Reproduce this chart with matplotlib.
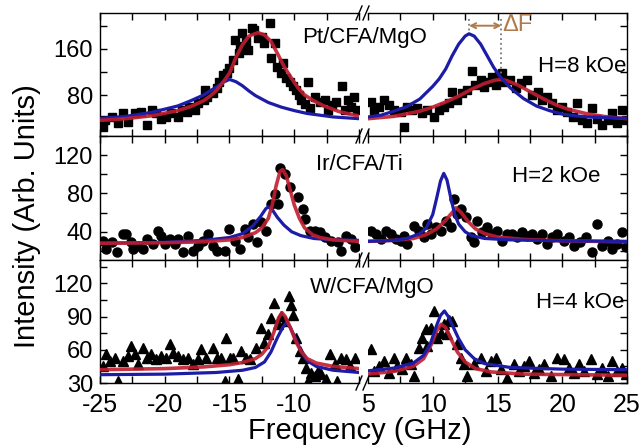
import numpy as np
import matplotlib
matplotlib.use("Agg")
import matplotlib.pyplot as plt
from matplotlib.ticker import MultipleLocator, FuncFormatter

plt.rcParams['font.family'] = ['Liberation Sans', 'DejaVu Sans']
plt.rcParams['axes.unicode_minus'] = False

# ---------------- data ----------------
# top panel: Pt/CFA/MgO, H=8 kOe (squares)
pt_fl = [-24.8,-24.6,-24.1,-23.6,-23.2,-22.8,-22.3,-21.8,-21.4,-21.0,-20.7,-20.3,-19.9,-19.5,-19.0,-18.7,
         -18.3,-18.1,-17.7,-17.4,-17.0,-16.9,-16.7,-16.3,-16.0,-15.8,-15.5,-15.2,-15.0,-14.7,-14.6,-14.3,
         -14.2,-14.0,-13.7,-13.6,-13.3,-13.1,-12.8,-12.5,-12.3,-11.9,-11.8,-11.5,-11.3,-11.0,-10.9,-10.6,
         -10.35,-10.1,-9.85,-9.6,-9.45,-9.2,-8.95,-8.8,-8.4,-8.0,-7.65,-7.4,-7.1,-6.75,-6.35,-6.1,-5.85,
         -5.6,-5.35,-5.15]
pt_il = [25,36,42,31,48,34,48,51,28,54,48,39,42,48,42,54,
         51,60,54,66,71,89,76,83,92,103,115,118,126,141,176,153,
         164,187,173,158,196,193,179,181,170,205,144,170,129,118,135,109,
         103,95,89,80,71,65,103,57,77,68,71,54,63,68,95,54,71,
         60,77,54]
pt_fr = [5.2,5.46,5.85,6.24,6.62,7.0,7.52,7.78,8.04,8.42,8.81,9.2,9.58,10.1,10.48,10.87,11.25,11.5,11.9,
         12.28,12.67,13.06,13.3,13.7,13.96,14.2,14.6,14.86,15.1,15.37,15.6,16.0,16.4,16.8,17.3,17.7,18.1,
         18.46,18.85,19.23,19.6,20.0,20.4,20.8,21.16,21.55,21.94,22.3,22.7,23.1,23.5,23.87,24.25,24.64,24.9]
pt_ir = [68,54,60,71,63,54,51,25,60,54,57,48,54,42,54,60,66,86,71,
         83,89,121,97,106,94,103,112,97,115,118,103,106,92,100,106,80,86,
         71,77,66,54,60,51,42,66,37,31,57,39,28,37,48,31,54,37]

pt_red_x_l = [-25,-23,-21,-19,-18,-17,-16.5,-16,-15.5,-15,-14.5,-14,-13.5,-12.8,-12.3,-11.8,-11.3,
              -10.8,-10.3,-9.7,-9.2,-8.5,-7.7,-6.5,-5]
pt_red_l = [36,39,44,53,60,70,78,88,102,118,145,167,182,188,184,173,152,130,112,92,80,70,61,51,43.5]
pt_blue_x_l = [-25,-23,-21,-19,-18,-17,-16,-15.5,-15,-14.5,-14,-13.5,-13,-12,-11,-10,-9,-8,-7,-5]
pt_blue_l = [39.5,43,50,61,70,80,94,102,107,103,96,87,79,67,59,53,48,45,42,39]
pt_blue_x_r = [5,6,7,8,9,10,10.5,11,11.5,12,12.5,12.8,13.2,13.7,14.2,14.7,15.2,16,17,18,19,20,21,22,23,25]
pt_blue_r = [42,45,52,60,73,95,108,125,148,168,182,186,182,168,148,128,112,92,74,61,53,47,44,42,41,39.5]
pt_red_x_r = [5,7,9,10,11,12,13,14,14.7,15.2,15.7,16.5,17.5,18.5,19.5,20.5,22,23.5,25]
pt_red_r = [39,43,52,59,68,78,90,100,105,107,105,98,86,74,63,55,47,42,39]

# middle panel: Ir/CFA/Ti, H=2 kOe (circles)
ir_fl = [-24.77,-24.5,-24.1,-23.7,-23.2,-22.97,-22.6,-22.45,-22.07,-21.7,-21.4,-20.9,-20.5,-20.26,-20.0,
         -19.6,-19.2,-18.98,-18.6,-18.2,-17.8,-17.4,-17.05,-16.66,-16.27,-16.0,-15.37,-15.0,-14.6,-14.2,
         -13.8,-13.57,-13.2,-12.85,-12.54,-12.16,-11.77,-11.5,-11.25,-11.13,-10.74,-10.35,-9.7,-9.32,-9.2,
         -8.8,-8.4,-8.04,-7.65,-7.14,-6.62,-6.36,-5.98,-5.6,-5.33]
ir_il = [30.6,21.9,28.9,18.4,37.6,37.6,28.9,21.9,25.4,21.9,32.3,27.1,41,35.8,27.1,
         32.3,27.1,32.3,18.4,35.8,20.2,25.4,30.6,37.6,25.4,20.2,20.2,42.8,30.6,21.9,
         42.8,34.1,48,28.9,49.7,41,68.9,79.3,68.9,107.1,100.2,86.3,75.8,63.7,53.2,
         41,41,39.3,34.1,30.6,28.9,20.2,35.8,32.3,23.6]
ir_fr = [5.2,5.6,5.98,6.36,6.75,7.14,7.52,7.78,8.04,8.55,8.94,9.32,9.58,9.84,10.22,10.6,11.0,11.38,
         11.64,11.9,12.16,12.54,12.93,13.2,13.44,13.83,14.2,14.6,14.99,15.37,15.76,16.15,16.53,16.92,
         17.3,17.69,18.08,18.46,18.85,19.23,19.62,20.1,20.5,20.9,21.4,21.8,22.3,22.7,23.1,23.5,23.87,
         24.25,24.64,24.9]
ir_ir = [41,37.6,32.3,41,37.6,32.3,30.6,35.8,27.1,46.3,41,34.1,48,37.6,44.5,41,51.5,44.5,
         74.1,58.4,63.7,55,34.1,28.9,51.5,39.3,44.5,37.6,41,30.6,37.6,37.6,34.1,39.3,
         35.8,37.6,32.3,37.6,27.1,34.1,37.6,30.6,34.1,25.4,28.9,34.1,18.4,48,25.4,30.6,21.9,
         27.1,39.3,23.6]

ir_red_x_l = [-25,-20,-17,-15,-14,-13,-12.5,-12,-11.7,-11.4,-11.1,-10.9,-10.6,-10.3,-10,-9.6,-9.2,
              -8.6,-8,-7,-5]
ir_red_l = [28,28.5,29.5,31.5,34,39,44,54,68,88,103,105,98,83,68,54,44,37,34,31.5,30]
ir_blue_x_l = [-25,-20,-17,-15,-14,-13.2,-12.6,-12.2,-12.0,-11.7,-11.3,-10.8,-10.2,-9.5,-8.5,-7,-5]
ir_blue_l = [28,29,31,34,38,46,56,64,66,63,55,47,40,36,33,31.5,31]
ir_blue_x_r = [5,7,8,9,9.5,10,10.3,10.6,10.85,11.1,11.4,11.7,12,12.5,13,14,16,20,25]
ir_blue_r = [30,31,33,38,44,58,75,93,101,94,75,58,48,40,36,33,31.5,30.5,30]
ir_red_x_r = [5,7,8.5,9.5,10.3,11,11.5,11.8,12.2,12.7,13.3,14,15,17,20,25]
ir_red_r = [30,31,33,37,43,52,60,65,60,51,43,38,34.5,32,30.5,29.5]

# bottom panel: W/CFA/MgO, H=4 kOe (triangles)
w_fl = [-24.77,-24.5,-24.25,-23.87,-23.6,-23.2,-22.84,-22.58,-22.3,-22.07,-21.7,-21.4,-21.04,-20.65,
        -20.26,-19.88,-19.62,-19.36,-18.98,-18.6,-18.2,-17.8,-17.43,-17.18,-16.8,-16.27,-16.0,-15.63,
        -15.37,-15.24,-14.99,-14.73,-14.34,-14.1,-13.7,-13.44,-12.93,-12.6,-12.3,-12.03,-11.77,-11.56,
        -11.25,-11.05,-10.74,-10.43,-10.28,-10.1,-9.84,-9.58,-9.3,-9.06,-8.9,-8.68,-8.42,-8.17,-7.9,
        -7.52,-7.26,-6.88,-6.67,-6.36,-5.98,-5.72,-5.33]
w_il = [45.3,55.8,49.8,52.8,31.8,49.8,54.3,63.3,55.8,46.8,61.8,52.8,55.8,51.3,
        54.3,52.8,64.8,57.3,54.3,51.3,52.8,46.8,51.3,60.3,52.8,61.8,52.8,52.8,
        31.8,70.8,52.8,52.8,33.3,58.8,52.8,51.3,61.8,79.8,66.3,73.8,88.8,102.3,
        82.8,90.3,85.8,108.3,100.8,91.8,70.8,58.8,52.8,43.8,31.8,39.3,36.3,40.8,37.8,
        33.3,55.8,46.8,31.8,52.8,51.3,45.3,52.8]
w_fr = [5.2,5.46,5.85,6.24,6.62,7.0,7.27,7.65,7.9,8.3,8.55,8.94,9.2,9.45,9.58,9.84,10.1,10.35,10.6,
        10.87,11.13,11.25,11.5,11.9,12.16,12.4,12.67,13.2,13.7,14.1,14.47,14.86,15.24,15.76,16.27,
        16.66,17.05,17.43,17.8,18.2,18.6,19.1,19.6,20.1,20.5,20.9,21.3,21.7,22.2,22.7,23.1,23.5,23.87,
        24.25,24.64,24.9]
w_ir = [60.3,40.8,45.3,49.8,39.3,52.8,45.3,42.3,52.8,46.8,36.3,61.8,70.8,78.3,63.3,79.8,94.8,70.8,
        75.3,82.8,73.8,87.3,85.8,64.8,52.8,46.8,36.3,46.8,52.8,40.8,49.8,52.8,42.3,34.8,46.8,
        40.8,45.3,49.8,39.3,42.3,46.8,36.3,52.8,51.3,43.8,39.3,46.8,40.8,51.3,37.8,43.8,36.3,49.8,
        40.8,43.8,37.8]

w_red_x_l = [-25,-20,-17,-15,-14,-13,-12.5,-12,-11.6,-11.2,-10.95,-10.7,-10.3,-9.9,-9.5,-9,-8.3,-7,-5]
w_red_l = [42,43,44.5,46.5,48.5,52,56,63,75,89,93.5,90,80,68,59,52,48,45,43]
w_blue_x_l = [-25,-20,-16,-14,-13,-12.3,-11.8,-11.3,-10.9,-10.6,-10.3,-9.9,-9.4,-9,-8.3,-7,-5]
w_blue_l = [37.5,38,39.5,41.5,44,49,58,71,80,84.5,80,70,57,50,45,41.5,39.5]
w_blue_x_r = [5,7,8.5,9.3,9.8,10.3,10.6,10.9,11.2,11.6,12,12.5,13.2,14,16,20,25]
w_blue_r = [41,43.5,48,55,65,82,91,95,90,80,70,60,52,47.5,44,42.5,42]
w_red_x_r = [5,7,8.5,9.3,9.9,10.3,10.65,11,11.4,11.9,12.5,13.3,14.5,17,25]
w_red_r = [38,40.5,45,52,65,77,83,80,70,58,49,43,40,38,37]

panels = [
    dict(fl=pt_fl, il=pt_il, fr=pt_fr, ir=pt_ir, m='s', ms=5.8,
         bxl=pt_blue_x_l, bl=pt_blue_l, rxl=pt_red_x_l, rl=pt_red_l,
         bxr=pt_blue_x_r, br=pt_blue_r, rxr=pt_red_x_r, rr=pt_red_r,
         ylim=(9, 222), major=80, minor=40),
    dict(fl=ir_fl, il=ir_il, fr=ir_fr, ir=ir_ir, m='o', ms=6.5,
         bxl=ir_blue_x_l, bl=ir_blue_l, rxl=ir_red_x_l, rl=ir_red_l,
         bxr=ir_blue_x_r, br=ir_blue_r, rxr=ir_red_x_r, rr=ir_red_r,
         ylim=(10.5, 140), major=40, minor=20),
    dict(fl=w_fl, il=w_il, fr=w_fr, ir=w_ir, m='^', ms=7.0,
         bxl=w_blue_x_l, bl=w_blue_l, rxl=w_red_x_l, rl=w_red_l,
         bxr=w_blue_x_r, br=w_blue_r, rxr=w_red_x_r, rr=w_red_r,
         ylim=(30, 141), major=30, minor=15),
]
labels = ["Pt/CFA/MgO", "Ir/CFA/Ti", "W/CFA/MgO"]
fields = ["H=8 kOe", "H=2 kOe", "H=4 kOe"]

blue = '#1c1ca6'
red = '#c01e30'

fig = plt.figure(figsize=(6.43, 4.48), dpi=100)
W, H = 643.0, 448.0
tops = [13, 136, 260]
bots = [136, 260, 383]
lx0, lx1, rx0, rx1 = 100, 359, 368, 627

no_minus5 = FuncFormatter(lambda v, pos: '' if abs(v + 5) < 1e-6 else '%d' % v)

for i, p in enumerate(panels):
    y0 = 1 - bots[i] / H
    h = (bots[i] - tops[i]) / H
    axl = fig.add_axes([lx0 / W, y0, (lx1 - lx0) / W, h])
    axr = fig.add_axes([rx0 / W, y0, (rx1 - rx0) / W, h])

    axl.plot(p['fl'], p['il'], p['m'], color='k', ms=p['ms'], mec='k', zorder=2)
    axr.plot(p['fr'], p['ir'], p['m'], color='k', ms=p['ms'], mec='k', zorder=2)
    axl.plot(p['bxl'], p['bl'], color=blue, lw=2.3, zorder=3)
    axl.plot(p['rxl'], p['rl'], color=red, lw=2.6, alpha=0.9, zorder=4)
    axr.plot(p['bxr'], p['br'], color=blue, lw=2.3, zorder=4)
    axr.plot(p['rxr'], p['rr'], color=red, lw=2.6, alpha=0.9, zorder=3)

    axl.set_xlim(-25, -5)
    axr.set_xlim(5, 25)
    for ax in (axl, axr):
        ax.set_ylim(*p['ylim'])
        ax.xaxis.set_major_locator(MultipleLocator(5))
        ax.xaxis.set_minor_locator(MultipleLocator(2.5))
        ax.yaxis.set_major_locator(MultipleLocator(p['major']))
        ax.yaxis.set_minor_locator(MultipleLocator(p['minor']))
        ax.tick_params(which='both', direction='in', top=True, length=5, width=1, labelsize=17)
        ax.tick_params(axis='x', labelsize=18, pad=7)
        ax.tick_params(axis='y', pad=5)
        for s in ax.spines.values():
            s.set_linewidth(1.0)
        if i < 2:
            ax.tick_params(labelbottom=False)
    axl.xaxis.set_major_formatter(no_minus5)
    axl.spines['right'].set_visible(False)
    axl.tick_params(which='both', right=False)
    axr.spines['left'].set_visible(False)
    axr.tick_params(which='both', left=False, labelleft=False, right=True)

    if i == 0:
        # delta F marker
        axr.plot([12.8, 12.8], [212, 186], ':', color='#777777', lw=1.3)
        axr.plot([15.3, 15.3], [212, 107], ':', color='#777777', lw=1.3)
        axr.annotate('', xy=(15.3, 200), xytext=(12.8, 200),
                     arrowprops=dict(arrowstyle='<->', color='#b07b4c', lw=1.4,
                                     shrinkA=0, shrinkB=0, mutation_scale=9))
        axr.text(15.4, 201, 'ΔF', color='#b07b4c', fontsize=17, va='center', ha='left')

# sample and field labels
name_pos = [(302, 37), (316, 164), (310, 287)]
field_pos = [(538, 67), (512, 176), (536, 303)]
for k in range(3):
    fig.text(name_pos[k][0] / W, 1 - name_pos[k][1] / H, labels[k], fontsize=16,
             ha='left', va='center')
    fig.text(field_pos[k][0] / W, 1 - field_pos[k][1] / H, fields[k], fontsize=16,
             ha='left', va='center')

# axis break marks
for yb in [13, 136, 260, 383]:
    for xc in [359, 366]:
        fig.add_artist(plt.Line2D([(xc - 3) / W, (xc + 3) / W],
                                  [1 - (yb + 7) / H, 1 - (yb - 7) / H],
                                  color='k', lw=1.0))

fig.text(27 / W, 1 - 216 / H, 'Intensity (Arb. Units)', rotation=90, fontsize=21,
         ha='center', va='center')
fig.text(360 / W, 1 - 431 / H, 'Frequency (GHz)', fontsize=21, ha='center', va='center')

fig.savefig('out.png', dpi=100)
